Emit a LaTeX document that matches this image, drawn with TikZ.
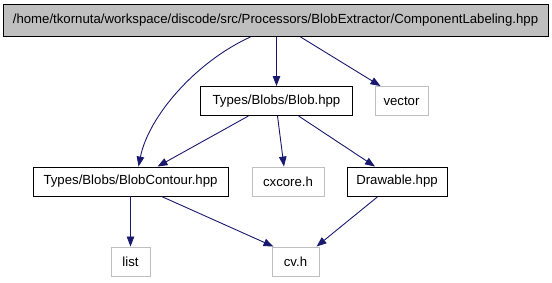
\documentclass[tikz,border=0pt]{standalone}
\usepackage{fontspec}
\setmainfont{Liberation Sans}
\usetikzlibrary{calc,arrows.meta,positioning}
\definecolor{edgeblue}{HTML}{191970}
\definecolor{extgray}{HTML}{BFBFBF}
\tikzset{
	% ------- every something
	every picture/.style={
		x=1pt, y=-1pt,
	},
	every node/.style={
		font=\fontsize{13.2}{15}\selectfont,
		inner sep=0pt,
	},
	% ------- custom
	current file/.style={
		draw=black, fill=extgray, line width=0.9pt,
		minimum height=32pt,
	},
	header/.style={
		draw=black, line width=0.9pt,
		minimum height=29pt,
	},
	system header/.style={
		draw=extgray, line width=0.9pt,
		minimum height=29pt,
	},
	include/.style={
		edgeblue, line width=0.9pt,
		-{Triangle[length=10pt,width=7.5pt]},
	},
}

\begin{document}
\begin{tikzpicture}

% frame %{{{1

	\useasboundingbox (0,0) rectangle (552,283);

% nodes %{{{1

	\node[current file, minimum width=545pt] (labeling) at (275.5,20.5)
		{/home/tkornuta/workspace/discode/src/Processors/BlobExtractor/ComponentLabeling.hpp};

	\node[header, minimum width=152pt] (blob) at (276.5,101) {Types/Blobs/Blob.hpp};
	\node[system header, minimum width=53pt] (vector) at (401.5,101) {vector};

	\node[header, minimum width=195pt] (contour) at (130.5,181.5) {Types/Blobs/BlobContour.hpp};
	\node[system header, minimum width=72pt] (cxcore) at (288,181.5) {cxcore.h};
	\node[header, minimum width=100pt] (drawable) at (397,181.5) {Drawable.hpp};

	\node[system header, minimum width=39pt] (list) at (130.5,261.5) {list};
	\node[system header, minimum width=47pt] (cvh) at (295.5,261.5) {cv.h};

% includes %{{{1

	\draw[include] ([xshift=-25pt]labeling.south)
		.. controls +(-55,25) and +(10,-50) .. ([xshift=8pt]contour.north);
	\draw[include] (labeling.south -| blob.north) -- (blob.north);
	\draw[include] ([xshift=25pt]labeling.south) -- ([xshift=-21pt]vector.north);

	\draw[include] ([xshift=-28pt]blob.south) -- ([xshift=27pt]contour.north);
	\draw[include] ([xshift=1pt]blob.south) -- ([xshift=-4pt]cxcore.north);
	\draw[include] ([xshift=22pt]blob.south) -- ([xshift=-22pt]drawable.north);

	\draw[include] (contour.south -| list.north) -- (list.north);
	\draw[include] ([xshift=31pt]contour.south) -- ([xshift=-22pt]cvh.north);
	\draw[include] ([xshift=-19pt]drawable.south) -- ([xshift=21pt]cvh.north);

% closing %{{{1

\end{tikzpicture}
\end{document}
